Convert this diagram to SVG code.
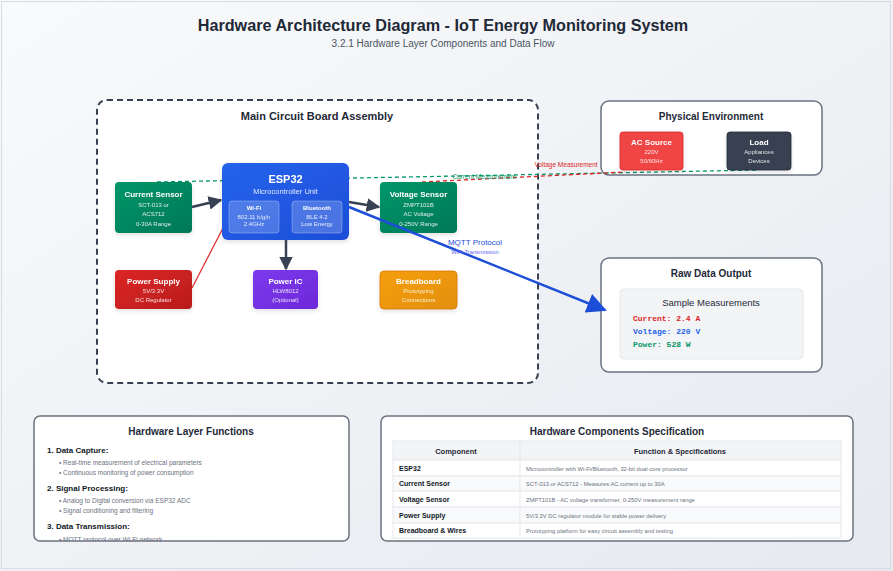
<svg xmlns="http://www.w3.org/2000/svg" width="893" height="571" viewBox="0 0 893 571">
<defs>
<linearGradient id="bg" x1="0" y1="0" x2="1" y2="1"><stop offset="0" stop-color="#f9fafb"/><stop offset="1" stop-color="#e6e9ef"/></linearGradient>
<linearGradient id="gGreen" x1="0" y1="0" x2="1" y2="1"><stop offset="0" stop-color="#059669"/><stop offset="1" stop-color="#047857"/></linearGradient>
<linearGradient id="gBlue" x1="0" y1="0" x2="1" y2="1"><stop offset="0" stop-color="#2563eb"/><stop offset="1" stop-color="#1d4ed8"/></linearGradient>
<linearGradient id="gRed" x1="0" y1="0" x2="1" y2="1"><stop offset="0" stop-color="#dc2626"/><stop offset="1" stop-color="#b91c1c"/></linearGradient>
<linearGradient id="gPurple" x1="0" y1="0" x2="1" y2="1"><stop offset="0" stop-color="#7c3aed"/><stop offset="1" stop-color="#6d28d9"/></linearGradient>
<linearGradient id="gOrange" x1="0" y1="0" x2="1" y2="1"><stop offset="0" stop-color="#f59e0b"/><stop offset="1" stop-color="#e38f08"/></linearGradient>
<marker id="arD" viewBox="0 0 10 10" refX="9" refY="5" markerWidth="5.5" markerHeight="5.5" orient="auto"><path d="M0,0 L10,5 L0,10 z" fill="#374151"/></marker>
<marker id="arB" viewBox="0 0 10 10" refX="9" refY="5" markerWidth="8" markerHeight="8" orient="auto"><path d="M0,0 L10,5 L0,10 z" fill="#1d4ed8"/></marker>
<clipPath id="clipF"><rect x="34" y="416" width="315" height="125" rx="6"/></clipPath>
<filter id="sh" x="-10%" y="-10%" width="120%" height="130%"><feDropShadow dx="0" dy="2" stdDeviation="2" flood-color="#000" flood-opacity="0.12"/></filter>
</defs>
<style>
text{font-family:"Liberation Sans",Arial,sans-serif}
.panel{fill:#fff;stroke:#6b7280;stroke-width:1.5}
.ptitle{font-size:10px;font-weight:bold;fill:#1f2937;text-anchor:middle}
.nt{font-size:8px;font-weight:bold;fill:#fff;text-anchor:middle}
.nt6{font-size:6px;font-weight:bold;fill:#fff;text-anchor:middle}
.ns{font-size:6px;fill:#fff;fill-opacity:0.85;text-anchor:middle}
.node{filter:url(#sh)}
.sub{fill:#ffffff;fill-opacity:0.2;stroke:#ffffff;stroke-opacity:0.35;stroke-width:0.8}
.hd{font-size:8px;font-weight:bold;fill:#111827}
.it{font-size:6.5px;fill:#6b7280}
.mono{font-family:"Liberation Mono","Courier New",monospace;font-size:8px;font-weight:bold}
.cell{font-size:7px;font-weight:bold;fill:#111827}
.desc{font-size:5.8px;fill:#6b7280}
.th{font-size:7.5px;font-weight:bold;fill:#1f2937;text-anchor:middle}
.arrow{stroke:#374151;stroke-width:2.5;fill:none}
</style>
<rect x="0" y="0" width="893" height="571" fill="url(#bg)"/>
<rect x="1.5" y="1.5" width="889" height="567" fill="none" stroke="#d7dbe2" stroke-width="1"/>

<g id="title">
<text x="443" y="31" text-anchor="middle" style="font-size:16.2px;font-weight:bold" fill="#1f2937">Hardware Architecture Diagram - IoT Energy Monitoring System</text>
<text x="443" y="47" text-anchor="middle" style="font-size:10px" fill="#4b5563">3.2.1 Hardware Layer Components and Data Flow</text>
</g>

<g id="main-board">
<rect x="97" y="100" width="441" height="283" rx="10" fill="#fff" stroke="#374151" stroke-width="2" stroke-dasharray="6,4"/>
<text x="317" y="120" class="ptitle" style="font-size:11px">Main Circuit Board Assembly</text>
</g>

<g id="physical-env">
<rect x="601" y="101" width="221" height="74" rx="8" class="panel"/>
<text x="711" y="120" class="ptitle">Physical Environment</text>
</g>

<g id="raw-data">
<rect x="601" y="258" width="221" height="114" rx="8" class="panel"/>
<text x="711" y="277" class="ptitle">Raw Data Output</text>
<rect x="620" y="289" width="183" height="70" rx="4" fill="#f3f4f6" stroke="#e5e7eb"/>
<text x="711" y="306" text-anchor="middle" style="font-size:9.5px" fill="#1f2937">Sample Measurements</text>
<text x="633" y="321" class="mono" fill="#dc2626">Current: 2.4 A</text>
<text x="633" y="334" class="mono" fill="#2563eb">Voltage: 220 V</text>
<text x="633" y="347" class="mono" fill="#059669">Power: 528 W</text>
</g>

<g id="connectors">
<line x1="157" y1="182" x2="757" y2="170" stroke="#059669" stroke-width="1.3" stroke-dasharray="4,3"/>
<line x1="422" y1="182" x2="625" y2="172" stroke="#dc2626" stroke-width="1.3" stroke-dasharray="4,3"/>
<text x="484" y="179" text-anchor="middle" style="font-size:6.5px" fill="#059669">Current Measurement</text>
<text x="566" y="167" text-anchor="middle" style="font-size:6.5px" fill="#dc2626">Voltage Measurement</text>
<line x1="192" y1="288" x2="223" y2="228" stroke="#dc2626" stroke-width="1.2"/>
</g>

<g id="current-sensor" class="node">
<rect x="115" y="182" width="77" height="51" rx="4" fill="url(#gGreen)"/>
<text x="153.5" y="197" class="nt">Current Sensor</text>
<text x="153.5" y="207" class="ns">SCT-013 or</text>
<text x="153.5" y="216" class="ns">ACS712</text>
<text x="153.5" y="226" class="ns">0-30A Range</text>
</g>

<g id="esp32" class="node">
<rect x="222" y="163" width="127" height="77" rx="6" fill="url(#gBlue)"/>
<text x="285.5" y="183" class="nt" style="font-size:11px">ESP32</text>
<text x="285.5" y="194" class="ns" style="font-size:7.5px">Microcontroller Unit</text>
<rect x="229" y="201" width="50" height="32" rx="3" class="sub"/>
<text x="254" y="210" class="nt6">Wi-Fi</text>
<text x="254" y="219" class="ns">802.11 b/g/n</text>
<text x="254" y="226" class="ns">2.4GHz</text>
<rect x="292" y="201" width="50" height="32" rx="3" class="sub"/>
<text x="317" y="210" class="nt6">Bluetooth</text>
<text x="317" y="219" class="ns">BLE 4.2</text>
<text x="317" y="226" class="ns">Low Energy</text>
</g>

<g id="voltage-sensor" class="node">
<rect x="380" y="182" width="77" height="51" rx="4" fill="url(#gGreen)"/>
<text x="418.5" y="197" class="nt">Voltage Sensor</text>
<text x="418.5" y="207" class="ns">ZMPT101B</text>
<text x="418.5" y="216" class="ns">AC Voltage</text>
<text x="418.5" y="226" class="ns">0-250V Range</text>
</g>

<g id="power-supply" class="node">
<rect x="115" y="270" width="77" height="39" rx="4" fill="url(#gRed)"/>
<text x="153.5" y="284" class="nt">Power Supply</text>
<text x="153.5" y="293" class="ns">5V/3.3V</text>
<text x="153.5" y="302" class="ns">DC Regulator</text>
</g>

<g id="power-ic" class="node">
<rect x="253" y="270" width="65" height="39" rx="4" fill="url(#gPurple)"/>
<text x="285.5" y="284" class="nt">Power IC</text>
<text x="285.5" y="293" class="ns">HLW8012</text>
<text x="285.5" y="302" class="ns">(Optional)</text>
</g>

<g id="breadboard" class="node">
<rect x="380" y="271" width="77" height="38" rx="4" fill="url(#gOrange)" stroke="#d97706" stroke-width="0.8"/>
<text x="418.5" y="284" class="nt">Breadboard</text>
<text x="418.5" y="293" class="ns">Prototyping</text>
<text x="418.5" y="302" class="ns">Connections</text>
</g>

<g id="ac-source" class="node">
<rect x="620" y="132" width="63" height="38" rx="3" fill="#ef4444" stroke="#dc2626" stroke-width="0.8"/>
<text x="651.5" y="145" class="nt">AC Source</text>
<text x="651.5" y="154" class="ns">220V</text>
<text x="651.5" y="163" class="ns">50/60Hz</text>
</g>

<g id="load" class="node">
<rect x="727" y="132" width="64" height="38" rx="3" fill="#374151" stroke="#1f2937" stroke-width="0.8"/>
<text x="759" y="145" class="nt">Load</text>
<text x="759" y="154" class="ns">Appliances</text>
<text x="759" y="163" class="ns">Devices</text>
</g>

<g id="arrows">
<line x1="192" y1="207" x2="221" y2="200" class="arrow" marker-end="url(#arD)"/>
<line x1="349" y1="202" x2="379" y2="207" class="arrow" marker-end="url(#arD)"/>
<line x1="286" y1="240" x2="286" y2="269" class="arrow" marker-end="url(#arD)"/>
<line x1="349" y1="207" x2="605" y2="310" stroke="#1d4ed8" stroke-width="2.5" marker-end="url(#arB)"/>
<text x="475" y="245" text-anchor="middle" style="font-size:8px" fill="#1d4ed8">MQTT Protocol</text>
<text x="475" y="254" text-anchor="middle" style="font-size:5.8px" fill="#6366f1">WiFi Transmission</text>
</g>

<g id="functions">
<rect x="34" y="416" width="315" height="125" rx="6" class="panel"/>
<g clip-path="url(#clipF)">
<text x="191" y="435" class="ptitle">Hardware Layer Functions</text>
<text x="47" y="453" class="hd">1. Data Capture:</text>
<text x="59" y="465" class="it">• Real-time measurement of electrical parameters</text>
<text x="59" y="475" class="it">• Continuous monitoring of power consumption</text>
<text x="47" y="491" class="hd">2. Signal Processing:</text>
<text x="59" y="503" class="it">• Analog to Digital conversion via ESP32 ADC</text>
<text x="59" y="513" class="it">• Signal conditioning and filtering</text>
<text x="47" y="529" class="hd">3. Data Transmission:</text>
<text x="59" y="542" class="it">• MQTT protocol over Wi-Fi network</text>
</g>
</g>

<g id="spec-table">
<rect x="381" y="416" width="472" height="125" rx="6" class="panel"/>
<text x="617" y="435" class="ptitle">Hardware Components Specification</text>
<rect x="393" y="441" width="448" height="19" fill="#f3f4f6" stroke="#e5e7eb"/>
<rect x="393" y="460" width="448" height="16" fill="#fff" stroke="#e5e7eb"/>
<rect x="393" y="476" width="448" height="15" fill="#f9fafb" stroke="#e5e7eb"/>
<rect x="393" y="491" width="448" height="16" fill="#fff" stroke="#e5e7eb"/>
<rect x="393" y="507" width="448" height="16" fill="#f9fafb" stroke="#e5e7eb"/>
<rect x="393" y="523" width="448" height="15" fill="#fff" stroke="#e5e7eb"/>
<line x1="520" y1="441" x2="520" y2="538" stroke="#e5e7eb"/>
<text x="456" y="453.5" class="th">Component</text>
<text x="680" y="453.5" class="th">Function &amp; Specifications</text>
<text x="399" y="470.5" class="cell">ESP32</text>
<text x="526" y="470.5" class="desc">Microcontroller with Wi-Fi/Bluetooth, 32-bit dual-core processor</text>
<text x="399" y="486" class="cell">Current Sensor</text>
<text x="526" y="486" class="desc">SCT-013 or ACS712 - Measures AC current up to 30A</text>
<text x="399" y="501.5" class="cell">Voltage Sensor</text>
<text x="526" y="501.5" class="desc">ZMPT101B - AC voltage transformer, 0-250V measurement range</text>
<text x="399" y="517.5" class="cell">Power Supply</text>
<text x="526" y="517.5" class="desc">5V/3.3V DC regulator module for stable power delivery</text>
<text x="399" y="533" class="cell">Breadboard &amp; Wires</text>
<text x="526" y="533" class="desc">Prototyping platform for easy circuit assembly and testing</text>
</g>
</svg>
